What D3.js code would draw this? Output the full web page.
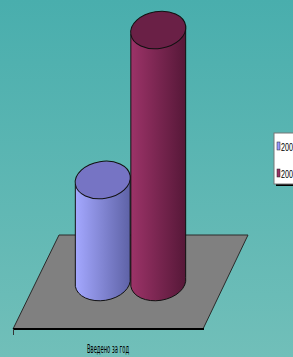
<!DOCTYPE html>
<html>
<head>
<meta charset="utf-8">
<script src="https://cdn.jsdelivr.net/npm/d3@7"></script>
<style>
  html, body { margin: 0; padding: 0; overflow: hidden; }
</style>
</head>
<body>
<div id="chart"></div>
<script>
// data (no axis shown, so values are relative)
let categories = ["Введено за год"];
let seriesNames = ["2003", "2004"];
let seriesValues = [40.5, 100];
let legendColors = ["#9999ff", "#993366"];
let seriesColors = [
    {side0: "#a4a8ff", side1: "#5e62a6", top: "#7674c4"},
    {side0: "#9c3368", side1: "#561838", top: "#6a2046"}
];

function main() {
    let width = 293, height = 357;

    let svg = d3.select("#chart")
        .append("svg")
        .attr("width", width)
        .attr("height", height);

    let defs = svg.append("defs");

    // teal background
    let bg = defs.append("linearGradient")
        .attr("id", "bg")
        .attr("x1", 0).attr("y1", 0).attr("x2", 0).attr("y2", 1);
    bg.append("stop").attr("offset", "0%").attr("stop-color", "#49aead");
    bg.append("stop").attr("offset", "100%").attr("stop-color", "#71bfb9");
    svg.append("rect")
        .attr("width", width)
        .attr("height", height)
        .attr("fill", "url(#bg)");

    // floor of the 3d plot
    svg.append("path")
        .attr("d", "M59,235 L248,235 L203,329 L13,329 Z")
        .attr("fill", "#808080")
        .attr("stroke", "#2a2a2a")
        .attr("stroke-width", 1);
    svg.append("line")
        .attr("x1", 13).attr("x2", 204).attr("y1", 329).attr("y2", 329)
        .attr("stroke", "#000").attr("stroke-width", 2);
    svg.append("line")
        .attr("x1", 13.5).attr("x2", 13.5).attr("y1", 329).attr("y2", 335)
        .attr("stroke", "#333").attr("stroke-width", 1);

    // scales
    let x = d3.scaleBand()
        .domain(seriesNames)
        .range([75, 186])
        .padding(0);
    let y = d3.scaleLinear()
        .domain([0, d3.max(seriesValues)])
        .range([282, 30]);

    let ry = 18.5, tilt = -9;
    let th = tilt * Math.PI / 180;

    seriesNames.forEach(function (name, i) {
        let c = seriesColors[i];
        let grad = defs.append("linearGradient")
            .attr("id", "side" + i)
            .attr("x1", 0).attr("y1", 0).attr("x2", 1).attr("y2", 0);
        grad.append("stop").attr("offset", "0%").attr("stop-color", c.side0);
        grad.append("stop").attr("offset", "100%").attr("stop-color", c.side1);

        let rx = x.bandwidth() / 2;
        let cx = x(name) + rx;
        let yb = y(0), yt = y(seriesValues[i]);
        let dx = rx * Math.cos(th), dy = rx * Math.sin(th);

        let body = "M" + (cx - dx) + "," + (yt - dy) +
            " L" + (cx - dx) + "," + (yb - dy) +
            " A" + rx + "," + ry + " " + tilt + " 0 0 " + (cx + dx) + "," + (yb + dy) +
            " L" + (cx + dx) + "," + (yt + dy) + " Z";

        svg.append("path")
            .attr("d", body)
            .attr("fill", "url(#side" + i + ")")
            .attr("stroke", "#111")
            .attr("stroke-width", 1);

        svg.append("ellipse")
            .attr("cx", cx).attr("cy", yt)
            .attr("rx", rx).attr("ry", ry)
            .attr("transform", "rotate(" + tilt + "," + cx + "," + yt + ")")
            .attr("fill", c.top)
            .attr("stroke", "#111")
            .attr("stroke-width", 1);
    });

    // category label
    svg.append("text")
        .attr("x", 108)
        .attr("y", 353)
        .attr("text-anchor", "middle")
        .attr("font-family", "'Liberation Sans Narrow', 'Arial Narrow', 'DejaVu Sans Condensed', sans-serif")
        .attr("font-size", 11.5)
        .attr("textLength", 42)
        .attr("lengthAdjust", "spacingAndGlyphs")
        .attr("fill", "#000")
        .text(categories[0]);

    // legend, cut off at the right edge as in the source
    let lg = svg.append("g").attr("transform", "translate(274,133)");
    lg.append("rect")
        .attr("x", 2).attr("y", 2).attr("width", 40).attr("height", 51)
        .attr("fill", "#000");
    lg.append("rect")
        .attr("x", 0).attr("y", 0).attr("width", 40).attr("height", 51)
        .attr("fill", "#fff")
        .attr("stroke", "#777")
        .attr("stroke-width", 1);
    seriesNames.forEach(function (name, i) {
        let yy = 9 + i * 27;
        lg.append("rect")
            .attr("x", 3).attr("y", yy).attr("width", 3).attr("height", 8)
            .attr("fill", legendColors[i])
            .attr("stroke", "#222").attr("stroke-width", 0.5);
        lg.append("text")
            .attr("x", 7).attr("y", yy + 8.5)
            .attr("font-family", "'Liberation Sans Narrow', 'Arial Narrow', sans-serif")
            .attr("font-size", 11)
            .attr("textLength", 16)
            .attr("lengthAdjust", "spacingAndGlyphs")
            .attr("fill", "#000")
            .text(name);
    });
}

main();
</script>
</body>
</html>
